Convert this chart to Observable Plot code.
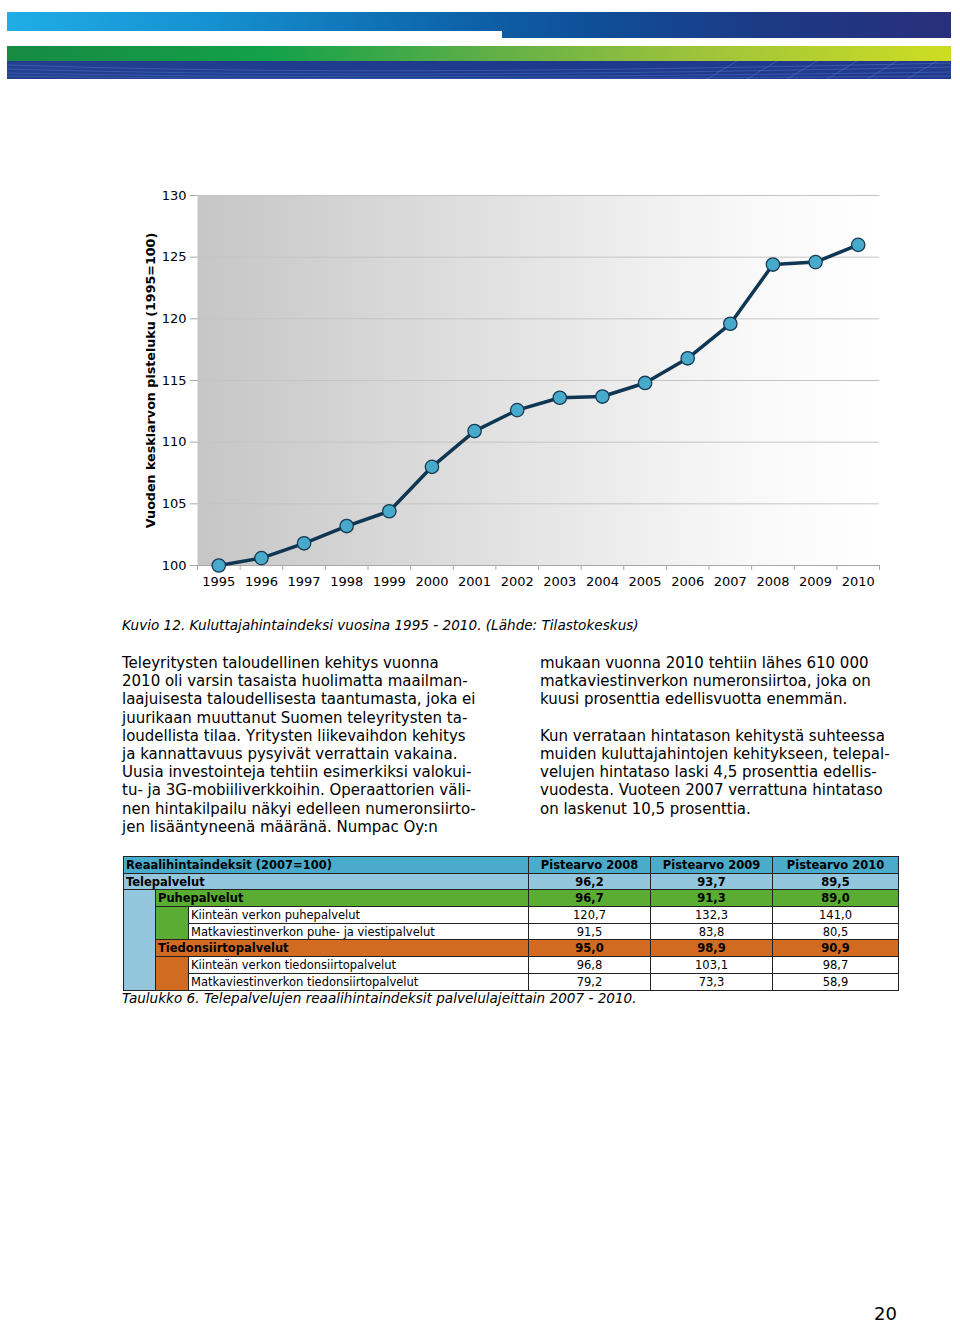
<!DOCTYPE html>
<html>
<head>
<meta charset="utf-8">
<script src="https://cdn.jsdelivr.net/npm/d3@7"></script>
<script src="https://cdn.jsdelivr.net/npm/@observablehq/plot@0.6"></script>
<style>
  html, body { margin: 0; padding: 0; background: #fff; }
  body { width: 960px; height: 1322px; position: relative; overflow: hidden; font-family: "DejaVu Sans", Verdana, sans-serif; color: #000; }
  .abs { position: absolute; }
  .band-blue { left: 7px; top: 12px; width: 944px; height: 26px;
    background: linear-gradient(to right, #20ade6 0%, #1590d0 22%, #0e68ad 45%, #0f4f98 62%, #1c3a86 80%, #292f7a 100%); }
  .band-cut { left: 7px; top: 31px; width: 495px; height: 8px; background: #fff; }
  .band-green { left: 7px; top: 46px; width: 944px; height: 15px;
    background: linear-gradient(to right, #178a42 0%, #13a14a 28%, #5cae48 50%, #9cc23c 72%, #cddd22 100%); }
  .band-dark { left: 7px; top: 61px; width: 944px; height: 18px; background: linear-gradient(to right, #243f8e, #1d3a8c 50%, #223a8e); }
  .caption { font-style: italic; font-size: 13.6px; white-space: nowrap; }
  .col { font-size: 15px; line-height: 18.2px; white-space: pre; }
  table.idx { border-collapse: collapse; table-layout: fixed; font-size: 11.5px; }
  table.idx td { border: 1px solid #222; padding: 0 2px; height: 15.7px; line-height: 14px; white-space: nowrap; overflow: hidden; }
  table.idx td.v { text-align: center; }
  .hdr { background: #4aabca; font-weight: bold; }
  .lb { background: #93c6dc; }
  .lbb { background: #93c6dc; font-weight: bold; }
  .gr { background: #5aac32; }
  .grb { background: #5aac32; font-weight: bold; }
  .or { background: #d26b22; }
  .orb { background: #d26b22; font-weight: bold; }
  .wh { background: #fff; }
</style>
</head>
<body>
<div class="abs band-blue"></div>
<div class="abs band-cut"></div>
<div class="abs band-green"></div>
<div class="abs band-dark"></div>
<svg class="abs" style="left:7px;top:61px" width="944" height="18">
  <g fill="none" stroke="#5a7fd0" stroke-opacity="0.55" stroke-width="0.8">
    <path d="M0,4 C200,10 420,14 944,2"/>
    <path d="M0,8 C220,14 480,16 944,6"/>
    <path d="M0,12 C240,17 520,17 944,11"/>
    <path d="M0,15 C260,19 560,18 944,15"/>
    <path d="M700,18 L730,0 M740,18 L770,0 M780,18 L810,0 M820,18 L850,0 M860,18 L890,0 M900,18 L930,0"/>
  </g>
</svg>

<div id="chart" class="abs" style="left:130px;top:180px;"></div>

<div class="abs caption" style="left:122px;top:617px;">Kuvio 12. Kuluttajahintaindeksi vuosina 1995 - 2010. (Lähde: Tilastokeskus)</div>

<div id="leftcol" class="abs col" style="left:122px;top:654px;"></div>
<div id="rightcol" class="abs col" style="left:540px;top:654px;"></div>

<div id="tablewrap" class="abs" style="left:123px;top:856px;"></div>
<div class="abs caption" style="left:122px;top:990px;">Taulukko 6. Telepalvelujen reaalihintaindeksit palvelulajeittain 2007 - 2010.</div>

<div class="abs" style="left:860px;top:1307px;width:37px;height:14px;text-align:right;font-size:18px;line-height:14px;">20</div>

<script>
// ---- Chart data ----
const years = [1995, 1996, 1997, 1998, 1999, 2000, 2001, 2002, 2003, 2004, 2005, 2006, 2007, 2008, 2009, 2010];
const values = [100.0, 100.6, 101.8, 103.2, 104.4, 108.0, 110.9, 112.6, 113.6, 113.7, 114.8, 116.8, 119.6, 124.4, 124.6, 126.0];
const yTicks = [100, 105, 110, 115, 120, 125, 130];
const yLabel = "Vuoden keskiarvon pisteluku (1995=100)";

// ---- Table data ----
const tableHeader = ["Reaalihintaindeksit (2007=100)", "Pistearvo 2008", "Pistearvo 2009", "Pistearvo 2010"];
const rowLabels = ["Telepalvelut", "Puhepalvelut", "Kiinteän verkon puhepalvelut", "Matkaviestinverkon puhe- ja viestipalvelut",
                   "Tiedonsiirtopalvelut", "Kiinteän verkon tiedonsiirtopalvelut", "Matkaviestinverkon tiedonsiirtopalvelut"];
const v2008 = ["96,2", "96,7", "120,7", "91,5", "95,0", "96,8", "79,2"];
const v2009 = ["93,7", "91,3", "132,3", "83,8", "98,9", "103,1", "73,3"];
const v2010 = ["89,5", "89,0", "141,0", "80,5", "90,9", "98,7", "58,9"];

// ---- Body text ----
const leftLines = [
  "Teleyritysten taloudellinen kehitys vuonna",
  "2010 oli varsin tasaista huolimatta maailman-",
  "laajuisesta taloudellisesta taantumasta, joka ei",
  "juurikaan muuttanut Suomen teleyritysten ta-",
  "loudellista tilaa. Yritysten liikevaihdon kehitys",
  "ja kannattavuus pysyivät verrattain vakaina.",
  "Uusia investointeja tehtiin esimerkiksi valokui-",
  "tu- ja 3G-mobiiliverkkoihin. Operaattorien väli-",
  "nen hintakilpailu näkyi edelleen numeronsiirto-",
  "jen lisääntyneenä määränä. Numpac Oy:n"
];
const rightLines = [
  "mukaan vuonna 2010 tehtiin lähes 610 000",
  "matkaviestinverkon numeronsiirtoa, joka on",
  "kuusi prosenttia edellisvuotta enemmän.",
  "",
  "Kun verrataan hintatason kehitystä suhteessa",
  "muiden kuluttajahintojen kehitykseen, telepal-",
  "velujen hintataso laski 4,5 prosenttia edellis-",
  "vuodesta. Vuoteen 2007 verrattuna hintataso",
  "on laskenut 10,5 prosenttia."
];

document.getElementById("leftcol").textContent = leftLines.join("\n");
document.getElementById("rightcol").textContent = rightLines.join("\n");

// ---- Chart ----
const data = years.map((y, i) => ({year: y, value: values[i]}));
const bounds = years.map(y => y - 0.5).concat([years[years.length - 1] + 0.5]);

const chart = Plot.plot({
  width: 770,
  height: 420,
  marginLeft: 67,
  marginRight: 21,
  marginTop: 15,
  marginBottom: 35,
  style: {fontFamily: "DejaVu Sans, Verdana, sans-serif", fontSize: "13px", color: "#000", background: "transparent"},
  x: {domain: [bounds[0], bounds[bounds.length - 1]]},
  y: {domain: [100, 130]},
  marks: [
    Plot.frame({fill: "url(#plotbg)"}),
    Plot.gridY(yTicks, {stroke: "#c4c4c4", strokeOpacity: 1, strokeWidth: 1}),
    Plot.ruleY([100], {stroke: "#a8a8a8", strokeWidth: 1.2}),
    Plot.axisY({ticks: yTicks, tickSize: 7, tickPadding: 4, stroke: "#a8a8a8", label: null, fontSize: 13}),
    Plot.axisX({ticks: bounds, tickSize: 5, tickFormat: () => "", stroke: "#a8a8a8", label: null}),
    Plot.axisX({ticks: years, tickSize: 0, tickPadding: 11, tickFormat: d => String(d), label: null, fontSize: 13}),
    Plot.text([yLabel], {frameAnchor: "left", textAnchor: "middle", rotate: -90, dx: -47, dy: 0, fontWeight: "bold", fontSize: 12.7, fill: "#000"}),
    Plot.line(data, {x: "year", y: "value", stroke: "#0f3652", strokeWidth: 3.5, strokeLinejoin: "round"}),
    Plot.dot(data, {x: "year", y: "value", r: 6.7, fill: "#47aacb", stroke: "#173a55", strokeWidth: 1.3})
  ]
});

const defs = d3.select(chart).insert("defs", ":first-child");
const grad = defs.append("linearGradient").attr("id", "plotbg").attr("x1", "0").attr("x2", "1").attr("y1", "0").attr("y2", "0");
grad.append("stop").attr("offset", "0%").attr("stop-color", "#c6c6c6");
grad.append("stop").attr("offset", "45%").attr("stop-color", "#e2e2e2");
grad.append("stop").attr("offset", "80%").attr("stop-color", "#f8f8f8");
grad.append("stop").attr("offset", "100%").attr("stop-color", "#ffffff");

document.getElementById("chart").appendChild(chart);

// ---- Table ----
const t = d3.select("#tablewrap").append("table").attr("class", "idx").style("width", "775px");
const cg = t.append("colgroup");
[32, 33, 340, 122, 122, 126].forEach(w => cg.append("col").style("width", w + "px"));

function valueCells(tr, i, cls) {
  [v2008, v2009, v2010].forEach(arr => tr.append("td").attr("class", "v " + cls).text(arr[i]));
}
// header
let tr = t.append("tr");
tr.append("td").attr("colspan", 3).attr("class", "hdr").text(tableHeader[0]);
tableHeader.slice(1).forEach(h => tr.append("td").attr("class", "v hdr").text(h));
// Telepalvelut
tr = t.append("tr");
tr.append("td").attr("colspan", 3).attr("class", "lbb").text(rowLabels[0]);
valueCells(tr, 0, "lbb");
// Puhepalvelut
tr = t.append("tr");
tr.append("td").attr("rowspan", 6).attr("class", "lb");
tr.append("td").attr("colspan", 2).attr("class", "grb").text(rowLabels[1]);
valueCells(tr, 1, "grb");
tr = t.append("tr");
tr.append("td").attr("rowspan", 2).attr("class", "gr");
tr.append("td").attr("class", "wh").text(rowLabels[2]);
valueCells(tr, 2, "wh");
tr = t.append("tr");
tr.append("td").attr("class", "wh").text(rowLabels[3]);
valueCells(tr, 3, "wh");
// Tiedonsiirtopalvelut
tr = t.append("tr");
tr.append("td").attr("colspan", 2).attr("class", "orb").text(rowLabels[4]);
valueCells(tr, 4, "orb");
tr = t.append("tr");
tr.append("td").attr("rowspan", 2).attr("class", "or");
tr.append("td").attr("class", "wh").text(rowLabels[5]);
valueCells(tr, 5, "wh");
tr = t.append("tr");
tr.append("td").attr("class", "wh").text(rowLabels[6]);
valueCells(tr, 6, "wh");
</script>
</body>
</html>
